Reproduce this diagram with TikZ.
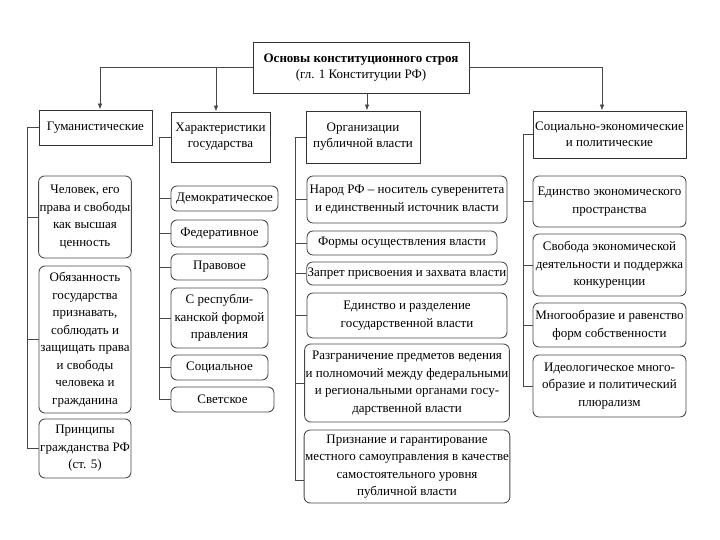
\documentclass[tikz,border=0pt]{standalone}
\usepackage{fontspec}
\setmainfont{Liberation Serif}
\usetikzlibrary{arrows.meta}

\begin{document}
\begin{tikzpicture}[x=1pt,y=-1pt,
		line/.style={draw=black!72,line width=0.85pt},
		sz/.style 2 args={minimum width=#1,minimum height=#2},
		head/.style={line,draw=black!80,fill=white,align=center,inner sep=1pt,font=\fontsize{13}{16}\selectfont},
		item/.style={line,rounded corners=6pt,fill=white,align=center,inner sep=1pt,font=\fontsize{13}{17.5}\selectfont},
		arr/.style={line,-{Latex[length=6pt,width=4.5pt]}}]
	\useasboundingbox (0,0) rectangle (720,540);

	\node[head,sz={216}{51}] (top) at (361,67.5) {\textbf{Основы конституционного строя}\\(гл. 1 Конституции РФ)};

	\node[head,sz={113}{35}] (hum) at (95.5,127.5) {Гуманистические};
	\node[head,sz={99}{50}] (chr) at (220.5,137) {Характеристики\\государства};
	\node[head,sz={114}{52}] (org) at (363,137) {Организации\\публичной власти};
	\node[head,sz={153}{47}] (soc) at (609.5,134.5) {Социально-экономические\\и политические};

	\coordinate (x1) at (100,0);
	\coordinate (x2) at (216,0);
	\coordinate (x3) at (367,0);
	\coordinate (x4) at (602,0);
	\draw[arr] (top.west) -| (x1 |- hum.north);
	\draw[arr] (x2 |- top.west) -- (x2 |- chr.north);
	\draw[arr] (x3 |- top.south) -- (x3 |- org.north);
	\draw[arr] (top.east) -| (x4 |- soc.north);

	% column 1
	\node[item,sz={92}{82}] (hum1) at (85,217) {Человек, его\\права и свободы\\как высшая\\ценность};
	\node[item,sz={92}{147}] (hum2) at (85,339.5) {Обязанность\\государства\\признавать,\\соблюдать и\\защищать права\\и свободы\\человека и\\гражданина};
	\node[item,sz={92}{59}] (hum3) at (85,448.5) {Принципы\\гражданства РФ\\(ст. 5)};
	\coordinate (b1) at (27,0);
	\draw[line] (hum.west) -| (b1 |- hum3.west) -- (hum3.west);
	\foreach \n in {hum1,hum2}
		\draw[line] (b1 |- \n.west) -- (\n.west);

	% column 2
	\node[item,sz={107}{25}] (dem) at (224.5,198.5) {Демократическое};
	\node[item,sz={97}{27}] (fed) at (219.5,233.5) {Федеративное};
	\node[item,sz={97}{26}] (prav) at (219.5,267) {Правовое};
	\node[item,sz={97}{60}] (resp) at (219.5,318) {С республи-\\канской формой\\правления};
	\node[item,sz={97}{25}] (socl) at (219.5,367.5) {Социальное};
	\node[item,sz={103}{25}] (svet) at (222.5,399.5) {Светское};
	\coordinate (b2) at (159,0);
	\draw[line] (chr.west) -| (b2 |- svet.west) -- (svet.west);
	\foreach \n in {dem,fed,prav,resp,socl}
		\draw[line] (b2 |- \n.west) -- (\n.west);

	% column 3
	\node[item,sz={200}{47}] (org1) at (407,199.5) {Народ РФ – носитель суверенитета\\и единственный источник власти};
	\node[item,sz={190}{24}] (org2) at (402,243) {Формы осуществления власти};
	\node[item,sz={200}{23}] (org3) at (407,273.5) {Запрет присвоения и захвата власти};
	\node[item,sz={200}{45}] (org4) at (407,315.5) {Единство и разделение\\государственной власти};
	\node[item,sz={200}{78}] (org5) at (407,383) {Разграничение предметов ведения\\и полномочий между федеральными\\и региональными органами госу-\\дарственной власти};
	\node[item,sz={200}{73}] (org6) at (407,466.5) {Признание и гарантирование\\местного самоуправления в качестве\\самостоятельного уровня\\публичной власти};
	\coordinate (b3) at (295,0);
	\coordinate (o6in) at ([yshift=-13.5pt]org6.west);
	\draw[line] (org.west) -| (b3 |- o6in) -- (o6in);
	\foreach \n in {org1,org2,org3,org4,org5}
		\draw[line] (b3 |- \n.west) -- (\n.west);

	% column 4
	\node[item,sz={153}{51}] (se1) at (609.5,201.5) {Единство экономического\\пространства};
	\node[item,sz={153}{62}] (se2) at (609.5,265) {Свобода экономической\\деятельности и поддержка\\конкуренции};
	\node[item,sz={153}{44}] (se3) at (609.5,325) {Многообразие и равенство\\форм собственности};
	\node[item,sz={153}{62}] (se4) at (609.5,386) {Идеологическое много-\\образие и политический\\плюрализм};
	\coordinate (b4) at (523,0);
	\draw[line] (soc.west) -| (b4 |- se4.west) -- (se4.west);
	\foreach \n in {se1,se2,se3}
		\draw[line] (b4 |- \n.west) -- (\n.west);
\end{tikzpicture}
\end{document}
